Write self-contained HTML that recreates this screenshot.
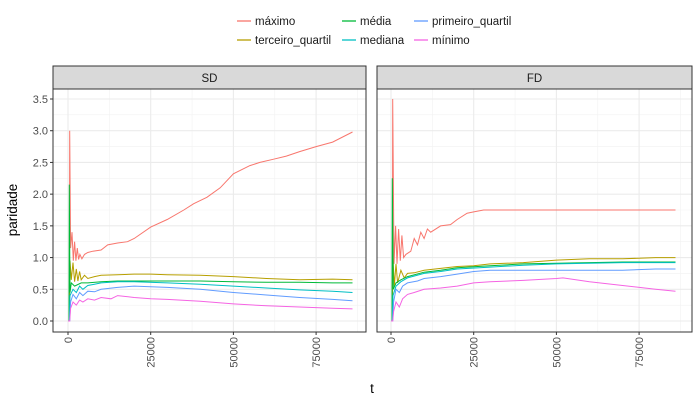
<!DOCTYPE html>
<html><head><meta charset="utf-8"><style>
body{margin:0;background:#fff;}
svg text{font-family:"Liberation Sans",sans-serif;}
</style></head><body>
<svg id="chart" width="700" height="400" xmlns="http://www.w3.org/2000/svg">
<g id="legend"></g>
<g id="panels"></g>
<text x="17" y="210" transform="rotate(-90 17 210)" text-anchor="middle" font-size="13.5" fill="#000">paridade</text>
<text x="372" y="393" text-anchor="middle" font-size="13.5" fill="#000">t</text>
</svg>
<script>
const seriesNames = ["máximo","terceiro_quartil","média","mediana","primeiro_quartil","mínimo"];
const seriesColors = ["#F8766D","#B79F00","#00BA38","#00BFC4","#619CFF","#F564E3"];
const panelNames = ["SD","FD"];
const yTicks = [0,0.5,1,1.5,2,2.5,3,3.5];
const yTickLabels = ["0.0","0.5","1.0","1.5","2.0","2.5","3.0","3.5"];
const xTicks = [0,25000,50000,75000];
const xTickLabels = ["0","25000","50000","75000"];

// SD panel
const sdMaxT = [0,400,500,800,1200,1600,2000,2400,2800,3200,3600,4200,5000,6000,7500,10000,12000,15000,18000,20000,25000,30000,35000,38000,42000,46000,50000,55000,58000,62000,66000,70000,75000,80000,86000];
const sdMaxV = [0,0,3.0,1.15,1.4,0.95,1.25,0.95,1.15,0.97,1.05,0.98,1.05,1.08,1.1,1.12,1.2,1.23,1.25,1.3,1.48,1.6,1.75,1.85,1.95,2.1,2.32,2.45,2.5,2.55,2.6,2.67,2.75,2.82,2.98];
const sdQ3T = [0,400,600,1000,1500,2000,2500,3000,3500,4000,5000,6000,8000,10000,15000,20000,25000,30000,40000,50000,60000,70000,80000,86000];
const sdQ3V = [0,0,0.95,0.65,0.92,0.62,0.82,0.63,0.78,0.65,0.72,0.67,0.7,0.72,0.73,0.74,0.74,0.73,0.72,0.7,0.67,0.65,0.66,0.65];
const sdMeanT = [0,300,400,600,1000,2000,4000,6000,10000,15000,20000,30000,40000,50000,60000,70000,80000,86000];
const sdMeanV = [0,0,2.15,0.45,0.6,0.55,0.6,0.6,0.62,0.63,0.63,0.63,0.63,0.62,0.61,0.61,0.6,0.6];
const sdMedT = [0,400,600,1500,2500,3500,4500,6000,8000,10000,15000,20000,30000,40000,50000,60000,70000,80000,86000];
const sdMedV = [0,0,0.4,0.5,0.45,0.55,0.5,0.56,0.58,0.6,0.62,0.62,0.6,0.58,0.55,0.52,0.49,0.47,0.45];
const sdQ1T = [0,500,800,1500,2500,3500,4500,6000,8000,10000,15000,20000,25000,30000,40000,50000,60000,70000,80000,86000];
const sdQ1V = [0,0,0.3,0.42,0.35,0.45,0.4,0.47,0.46,0.5,0.53,0.55,0.54,0.53,0.5,0.45,0.41,0.37,0.34,0.32];
const sdMinT = [0,500,800,1500,2500,3500,4500,6000,8000,10000,13000,15000,20000,25000,30000,40000,50000,60000,70000,80000,86000];
const sdMinV = [0,0,0.2,0.3,0.25,0.33,0.3,0.35,0.33,0.37,0.35,0.4,0.37,0.35,0.34,0.31,0.27,0.24,0.22,0.2,0.19];

// FD panel
const fdMaxT = [0,400,500,900,1400,1800,2300,2800,3300,3800,4500,6000,7000,8000,9000,10000,11000,12000,15000,18000,20000,23000,25000,28000,40000,60000,86000];
const fdMaxV = [0,0,3.5,0.9,1.5,0.9,1.45,0.95,1.35,1.0,1.05,1.1,1.3,1.2,1.4,1.3,1.45,1.4,1.5,1.52,1.6,1.7,1.72,1.75,1.75,1.75,1.75];
const fdQ3T = [0,400,600,1000,1500,2000,3000,4000,5000,7000,10000,15000,20000,25000,30000,40000,50000,60000,70000,80000,86000];
const fdQ3V = [0,0,1.0,0.55,0.9,0.6,0.8,0.68,0.75,0.76,0.8,0.83,0.86,0.87,0.9,0.92,0.96,0.98,0.98,1.0,1.0];
const fdMeanT = [0,300,400,700,1500,3000,5000,10000,15000,20000,30000,40000,50000,60000,70000,80000,86000];
const fdMeanV = [0,0,2.25,0.5,0.6,0.65,0.7,0.77,0.8,0.84,0.87,0.9,0.91,0.92,0.93,0.93,0.93];
const fdMedT = [0,400,600,1500,3000,5000,10000,15000,20000,30000,40000,50000,60000,70000,80000,86000];
const fdMedV = [0,0,0.4,0.55,0.62,0.68,0.75,0.78,0.82,0.85,0.88,0.9,0.91,0.92,0.92,0.92];
const fdQ1T = [0,500,800,1500,2500,3500,5000,8000,10000,15000,20000,25000,30000,40000,50000,60000,70000,80000,86000];
const fdQ1V = [0,0,0.3,0.5,0.45,0.55,0.6,0.63,0.67,0.7,0.74,0.78,0.8,0.8,0.8,0.8,0.8,0.82,0.82];
const fdMinT = [0,500,800,1500,2500,3500,5000,7000,10000,15000,20000,25000,30000,40000,50000,52000,60000,70000,80000,86000];
const fdMinV = [0,0,0.15,0.3,0.22,0.35,0.42,0.45,0.5,0.52,0.55,0.6,0.62,0.64,0.67,0.68,0.62,0.56,0.5,0.47];

const sdData = [[sdMaxT,sdMaxV],[sdQ3T,sdQ3V],[sdMeanT,sdMeanV],[sdMedT,sdMedV],[sdQ1T,sdQ1V],[sdMinT,sdMinV]];
const fdData = [[fdMaxT,fdMaxV],[fdQ3T,fdQ3V],[fdMeanT,fdMeanV],[fdMedT,fdMedV],[fdQ1T,fdQ1V],[fdMinT,fdMinV]];
const panelData = [sdData, fdData];

const NS = "http://www.w3.org/2000/svg";
function mk(tag, attrs, parent){const e=document.createElementNS(NS,tag);for(const k in attrs)e.setAttribute(k,attrs[k]);parent.appendChild(e);return e;}

const plotTop=89, plotBottom=332;
const panelLefts=[53,377], panelRights=[366,692];
function yScale(v){return 321 - v*(321-99)/3.5;}
function xScaleFor(p){const x0=p===0?68:391;return t=>x0 + t*(82.7/25000);}

const panels=document.getElementById('panels');
panelNames.forEach((name,p)=>{
  const g=mk('g',{},panels);
  
  
  const L=panelLefts[p], R=panelRights[p], xs=xScaleFor(p);
  const strip=mk('rect',{x:L,y:66,width:R-L,height:23,fill:'#d9d9d9',stroke:'#333','stroke-width':1},g);
  
  
  const st=mk('text',{x:(L+R)/2,y:82,'text-anchor':'middle','font-size':11.5,fill:'#1a1a1a'},g);
  st.textContent=name;
  
  
  for(let i=0;i<yTicks.length-1;i++){const y=yScale((yTicks[i]+yTicks[i+1])/2);mk('line',{x1:L,x2:R,y1:y,y2:y,stroke:'#f2f2f2','stroke-width':0.6},g);}
  for(let i=-1;i<xTicks.length;i++){const t=i<0?-12500:xTicks[i]+12500;const x=xs(t);if(x>L&&x<R)mk('line',{x1:x,x2:x,y1:plotTop,y2:plotBottom,stroke:'#f2f2f2','stroke-width':0.6},g);}
  yTicks.forEach((v,i)=>{const y=yScale(v);mk('line',{x1:L,x2:R,y1:y,y2:y,stroke:'#ebebeb','stroke-width':1.1},g);
    if(p===0){mk('line',{x1:L-3,x2:L,y1:y,y2:y,stroke:'#333'},g);
      const t=mk('text',{x:L-5,y:y+4,'text-anchor':'end','font-size':11,fill:'#4d4d4d'},g);t.textContent=yTickLabels[i];
      
      }});
  xTicks.forEach((v,i)=>{const x=xs(v);mk('line',{x1:x,x2:x,y1:plotTop,y2:plotBottom,stroke:'#ebebeb','stroke-width':1.1},g);
    mk('line',{x1:x,x2:x,y1:plotBottom,y2:plotBottom+3,stroke:'#333'},g);
    const t=mk('text',{x:x+4,y:plotBottom+5,'text-anchor':'end','font-size':11,fill:'#4d4d4d',transform:`rotate(-90 ${x+4} ${plotBottom+5})`},g);t.textContent=xTickLabels[i];
    
    });
  panelData[p].forEach((s,k)=>{
    const d=s[0].map((t,j)=>(j?'L':'M')+xs(t).toFixed(1)+','+yScale(s[1][j]).toFixed(1)).join('');
    const path=mk('path',{d:d,fill:'none',stroke:seriesColors[k],'stroke-width':1},g);
    
    
  });
  mk('rect',{x:L,y:plotTop,width:R-L,height:plotBottom-plotTop,fill:'none',stroke:'#333','stroke-width':1},g);
});

const legend=document.getElementById('legend');
const legPos=[[237,25],[237,44],[342,25],[342,44],[414,25],[414,44]];
legPos.forEach((pos,k)=>{
  const [x,y]=pos;
  const g=mk('g',{},legend);
  
  
  mk('line',{x1:x,x2:x+14,y1:y-4,y2:y-4,stroke:seriesColors[k],'stroke-width':1.3},g);
  const t=mk('text',{x:x+18,y:y,'font-size':11.5,fill:'#1a1a1a'},g);t.textContent=seriesNames[k];
});
</script>
</body></html>
